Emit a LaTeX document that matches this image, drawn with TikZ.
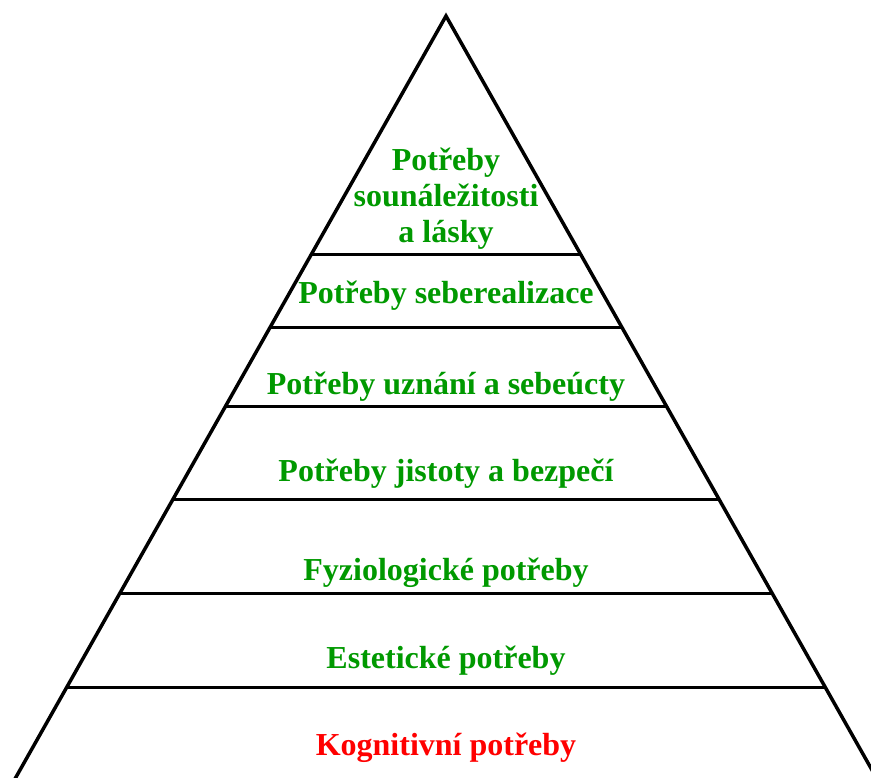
\documentclass[tikz,border=0pt]{standalone}
\usepackage{fontspec}
\setmainfont{Liberation Serif}
\usetikzlibrary{calc}
\definecolor{levelgreen}{RGB}{0,153,0}
\definecolor{levelred}{RGB}{255,0,0}
\begin{document}
\begin{tikzpicture}[x=1pt,y=-1pt,
  side/.style={line width=3.5pt, line join=miter},
  tier/.style={line width=3pt},
  level/.style={font=\fontsize{32}{36}\selectfont\bfseries, text=levelgreen,
    anchor=base, inner sep=0pt, align=center}]
\useasboundingbox (0,0) rectangle (871,778);
\clip (0,0) rectangle (871,778);
% pyramid outline
\coordinate (apex) at (446,16);
\coordinate (bl) at (8.7,790);
\coordinate (br) at (883.3,790);
\draw[side] (bl) -- (apex) -- (br);
% tier separators
\foreach \y [count=\i] in {255,328,406,500,594,688} {
  \coordinate (l\i) at ($(apex)!{(\y-16)/774}!(bl)$);
  \coordinate (r\i) at ($(apex)!{(\y-16)/774}!(br)$);
  \draw[tier] (l\i) -- (r\i);
}
% tier labels (a multi-line node sits on the baseline of its last line)
\node[level] (love) at (446,243) {Potřeby\\sounáležitosti\\a lásky};
\node[level] (self) at (446,304) {Potřeby seberealizace};
\node[level] (esteem) at (446,395) {Potřeby uznání a sebeúcty};
\node[level] (safety) at (446,481) {Potřeby jistoty a bezpečí};
\node[level] (physio) at (446,580) {Fyziologické potřeby};
\node[level] (aesth) at (446,668) {Estetické potřeby};
\node[level, text=levelred] (cogn) at (446,755) {Kognitivní potřeby};
\end{tikzpicture}
\end{document}
